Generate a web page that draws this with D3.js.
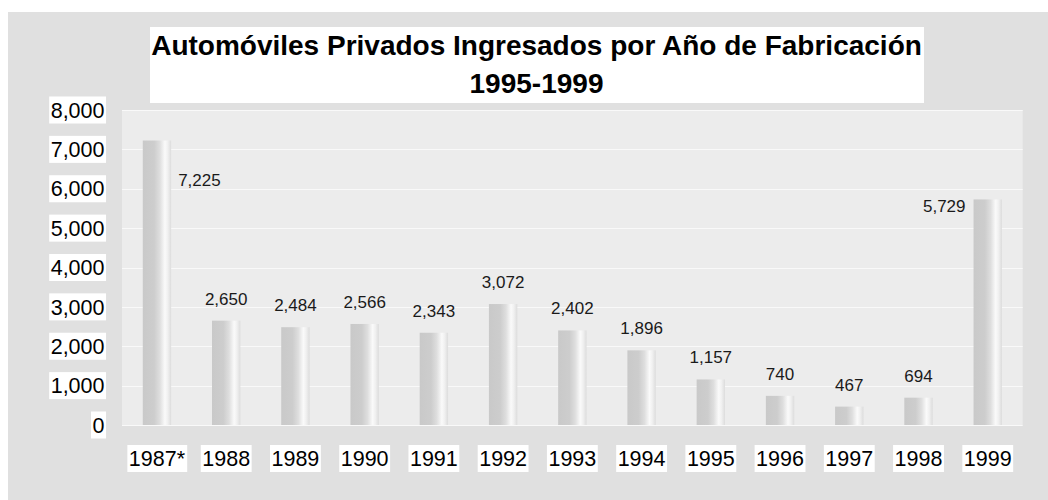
<!DOCTYPE html>
<html><head><meta charset="utf-8">
<script src="https://cdn.jsdelivr.net/npm/d3@7"></script>
<style>body{margin:0;background:#fff}svg{display:block}text{font-family:"Liberation Sans",Arial,sans-serif}</style>
</head><body>
<svg id="c" width="1048" height="500"></svg>
<script>
const titleLines = ["Automóviles Privados Ingresados por Año de Fabricación", "1995-1999"];
const categories = ["1987*","1988","1989","1990","1991","1992","1993","1994","1995","1996","1997","1998","1999"];
const values = [7225,2650,2484,2566,2343,3072,2402,1896,1157,740,467,694,5729];
const yTicks = [0,1000,2000,3000,4000,5000,6000,7000,8000];

const svg = d3.select("#c");
const fmt = d3.format(",");

// panel
svg.append("rect").attr("x",8).attr("y",12).attr("width",1040).attr("height",488).attr("fill","#e0e0e0");

const plot = {l:122, r:1022.7, t:110, b:425};
const x = d3.scaleBand().domain(categories).range([plot.l, plot.r]).paddingInner(0.59).paddingOuter(0.3);
const y = d3.scaleLinear().domain([0,8000]).range([plot.b, plot.t]);

// plot area
svg.append("rect").attr("x",plot.l).attr("y",plot.t).attr("width",plot.r-plot.l).attr("height",plot.b-plot.t).attr("fill","#ececec");

// gridlines
svg.append("g").selectAll("line").data(yTicks).join("line")
  .attr("x1",plot.l).attr("x2",plot.r)
  .attr("y1",d=>Math.round(y(d))+0.5).attr("y2",d=>Math.round(y(d))+0.5)
  .attr("stroke","#f9f9f9").attr("stroke-width",1);

// title box
svg.append("rect").attr("x",150).attr("y",27).attr("width",774).attr("height",76).attr("fill","#fff");
svg.append("text").attr("x",536.5).attr("y",55).attr("text-anchor","middle")
  .attr("font-size",28).attr("font-weight","bold").attr("fill","#000").text(titleLines[0]);
svg.append("text").attr("x",536.5).attr("y",93).attr("text-anchor","middle")
  .attr("font-size",28).attr("font-weight","bold").attr("fill","#000").text(titleLines[1]);

// gradient
const defs = svg.append("defs");
const g = defs.append("linearGradient").attr("id","barg").attr("x1","0").attr("x2","1").attr("y1","0").attr("y2","0");
[[0,"#c9c9c9"],[0.4,"#cdcdcd"],[0.6,"#dedede"],[0.78,"#fafafa"],[0.88,"#f0f0f0"],[1,"#dcdcdc"]]
  .forEach(([o,c])=>g.append("stop").attr("offset",o).attr("stop-color",c));

// bars
svg.append("g").selectAll("rect").data(values).join("rect")
  .attr("x",(d,i)=>x(categories[i])).attr("width",x.bandwidth())
  .attr("y",d=>y(d)).attr("height",d=>y(0)-y(d)).attr("fill","url(#barg)");

// value labels
const last = values.length-1;
svg.append("g").selectAll("text").data(values).join("text")
  .attr("font-size",17).attr("fill","#1a1a1a")
  .attr("text-anchor",(d,i)=> i===0 ? "start" : (i===last ? "end" : "middle"))
  .attr("x",(d,i)=> i===0 ? x(categories[i])+x.bandwidth()+7 : (i===last ? x(categories[i])-8 : x(categories[i])+x.bandwidth()/2))
  .attr("y",(d,i)=> i===0 ? y(d)+45 : (i===last ? y(d)+12.5 : y(d)-16))
  .text(d=>fmt(d));

// y axis labels with white boxes
const yl = svg.append("g");
yTicks.forEach(t=>{
  const grp = yl.append("g");
  const r = grp.append("rect").attr("fill","#fff");
  const tx = grp.append("text").attr("x",104.5).attr("y",y(t)).attr("dy","0.36em")
    .attr("text-anchor","end").attr("font-size",21.5).attr("fill","#000").text(fmt(t));
  const bb = tx.node().getBBox();
  r.attr("x",bb.x-1.5).attr("width",bb.width+3).attr("y",y(t)-13.5).attr("height",27);
});

// x axis labels with white boxes
const xl = svg.append("g");
categories.forEach(c=>{
  const grp = xl.append("g");
  const r = grp.append("rect").attr("fill","#fff");
  const cx = x(c)+x.bandwidth()/2;
  const tx = grp.append("text").attr("x",cx).attr("y",458.3).attr("dy","0.36em")
    .attr("text-anchor","middle").attr("font-size",21.5).attr("fill","#000").text(c);
  const bb = tx.node().getBBox();
  r.attr("x",bb.x-1.5).attr("width",bb.width+3).attr("y",445).attr("height",27);
});
</script>
</body></html>
